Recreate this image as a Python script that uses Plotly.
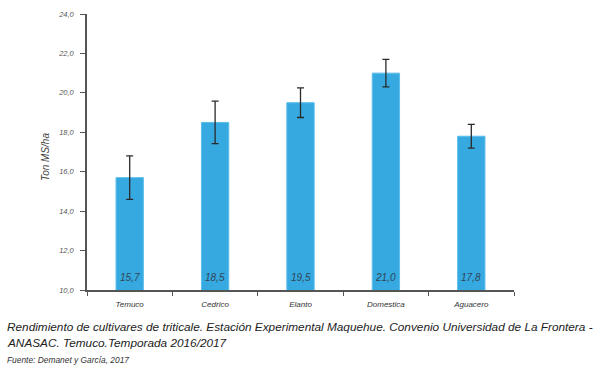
import plotly.graph_objects as go

categories = ["Temuco", "Cedrico", "Elanto", "Domestica", "Aguacero"]
values = [15.7, 18.5, 19.5, 21.0, 17.8]
errors = [1.1, 1.08, 0.75, 0.7, 0.6]
y_ticks = [10, 12, 14, 16, 18, 20, 22, 24]
y_range = [10, 24]

W, H = 600, 372
L, R, T, B = 87, 86, 14, 82
ph = H - T - B
pw = W - L - R

def py(p):
    return (H - B - p) / ph

def px(p):
    return (p - L) / pw

fig = go.Figure()
fig.add_trace(go.Bar(
    x=categories, y=values,
    marker=dict(color="#36A9E1", line=dict(color="#5BBDEB", width=1)),
    error_y=dict(type="data", array=errors, visible=True, color="#2a2a2a",
                 thickness=1.3, width=3.5),
    width=0.32,
    hoverinfo="x+y",
))

# value labels at the foot of each bar
lab_font = dict(family="Liberation Sans, Arial", size=10, color="#2f4656", style="italic")
for c, v in zip(categories, values):
    fig.add_annotation(x=c, y=y_range[0], xref="x", yref="y",
                       text=f"{v:.1f}".replace(".", ","),
                       showarrow=False, yanchor="middle", yshift=13, font=lab_font)

fig.update_layout(
    width=W, height=H,
    margin=dict(l=L, r=R, t=T, b=B, autoexpand=False),
    paper_bgcolor="white", plot_bgcolor="white",
    separators=",.",
    showlegend=False,
    font=dict(family="Liberation Sans, Arial", color="#444444"),
)
fig.update_yaxes(
    range=y_range, tickvals=y_ticks, tickformat=".1f",
    showgrid=False, zeroline=False,
    showline=True, linecolor="#555555", linewidth=1.5,
    ticks="outside", ticklen=5, tickcolor="#555555", tickwidth=1.2,
    ticklabelstandoff=5,
    tickfont=dict(size=7.5, color="#555555", style="italic"),
)
fig.update_xaxes(
    showgrid=False, zeroline=False,
    showline=True, linecolor="#555555", linewidth=1.5,
    ticks="outside", tickson="boundaries", ticklen=4, tickcolor="#555555", tickwidth=1.2,
    ticklabelstandoff=6,
    tickfont=dict(size=8, color="#333333", style="italic"),
)

fig.add_annotation(text="Ton MS/ha", textangle=-90,
                   xref="paper", yref="paper", x=px(45), y=py(157),
                   xanchor="center", yanchor="middle", showarrow=False,
                   font=dict(family="Liberation Sans, Arial", size=10, color="#444444", style="italic"))

cap_font = dict(family="Liberation Sans, Arial", size=11.8, color="#222222", style="italic")
fig.add_annotation(text="Rendimiento de cultivares de triticale. Estación Experimental Maquehue. Convenio Universidad de La Frontera -",
                   xref="paper", yref="paper", x=px(5), y=py(327),
                   xanchor="left", yanchor="middle", showarrow=False, font=cap_font)
fig.add_annotation(text="ANASAC. Temuco.Temporada 2016/2017",
                   xref="paper", yref="paper", x=px(5), y=py(343),
                   xanchor="left", yanchor="middle", showarrow=False, font=cap_font)
fig.add_annotation(text="Fuente: Demanet y García, 2017",
                   xref="paper", yref="paper", x=px(5), y=py(360),
                   xanchor="left", yanchor="middle", showarrow=False,
                   font=dict(family="Liberation Sans, Arial", size=8.4, color="#333333", style="italic"))

fig.write_html("out.html", config={"displayModeBar": False},
               post_script="document.body.style.margin='0';")
